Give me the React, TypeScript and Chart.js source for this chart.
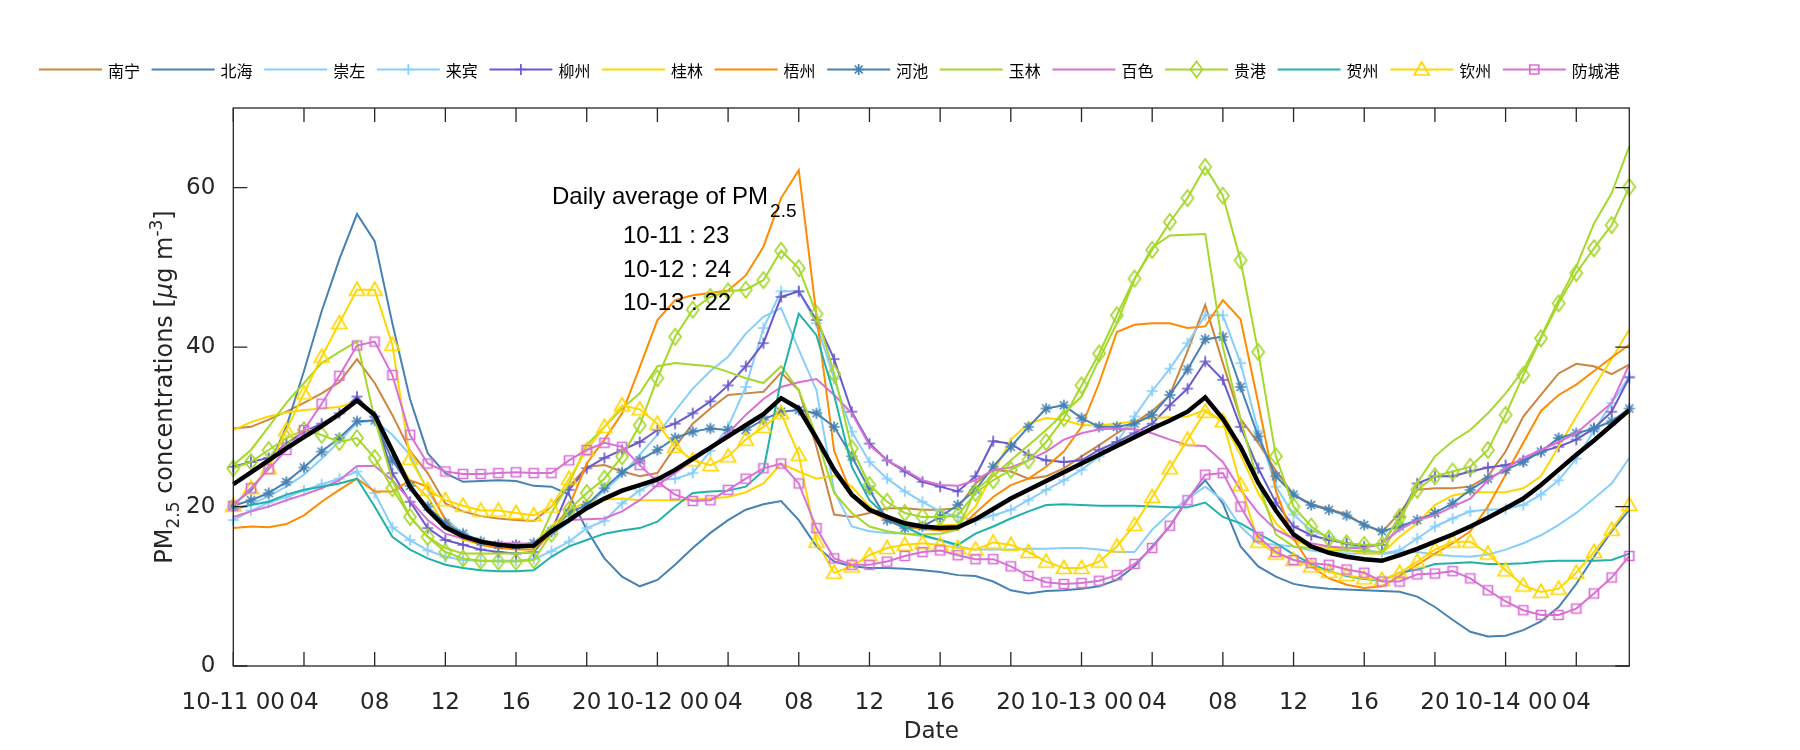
import React, { useEffect, useRef } from 'react';
import { Chart, registerables } from 'chart.js';

Chart.register(...registerables);

// ---------- data ----------
const dayLabels = ['10-11', '10-12', '10-13', '10-14'];
const hourCount = 80;
const hourTicks = Array.from({ length: hourCount }, (_, i) => {
  const h = i % 24;
  const d = Math.floor(i / 24);
  return h === 0 ? `${dayLabels[d]} 00` : String(h).padStart(2, '0');
});
const yTickValues = [0, 20, 40, 60];

const cityNames = ['南宁', '北海', '崇左', '来宾', '柳州', '桂林', '梧州', '河池', '玉林', '百色', '贵港', '贺州', '钦州', '防城港'];

const nanning = [
  29.8, 30.0, 30.9, 31.9, 33.0, 34.2, 35.6, 38.5, 35.5, 31.5, 27.0, 24.2, 20.4, 19.4, 18.8, 18.5,
  18.3, 18.2, 20.0, 22.5, 25.0, 25.2, 24.4, 23.8, 24.2, 27.5, 30.4, 32.3, 34.0, 34.2, 34.4, 36.8,
  34.6, 27.5, 19.0, 18.7, 19.2, 19.8, 19.8, 19.6, 19.6, 19.8, 22.9, 24.6, 24.4, 23.5, 23.8, 24.8,
  26.3, 27.7, 29.2, 30.5, 32.0, 34.0, 39.5, 45.3, 38.0, 31.0, 28.0, 24.5, 21.5, 20.3, 19.7, 19.0,
  17.7, 16.8, 19.2, 22.1, 22.3, 22.3, 22.5, 23.8, 26.9, 31.3, 34.0, 36.7, 37.9, 37.6, 36.6, 37.8,
];
const beihai = [
  20.3, 22.0, 25.0, 30.0, 37.0, 44.5, 51.0, 56.7, 53.3, 43.0, 33.5, 26.7, 24.2, 23.1, 23.2, 23.3,
  23.2, 22.6, 22.5, 21.5, 17.1, 13.5, 11.2, 10.0, 10.8, 12.7, 14.8, 16.7, 18.3, 19.6, 20.3, 20.7,
  18.3, 15.0, 13.1, 12.5, 12.3, 12.3, 12.2, 12.0, 11.8, 11.4, 11.3, 10.6, 9.5, 9.1, 9.4, 9.5,
  9.7, 10.0, 10.8, 12.5, 15.0, 17.5, 21.0, 23.3, 20.4, 15.0, 12.5, 11.2, 10.3, 9.9, 9.7, 9.6,
  9.5, 9.4, 9.3, 8.7, 7.4, 5.8, 4.3, 3.7, 3.8, 4.5, 5.6, 7.4, 10.3, 13.7, 16.9, 19.6,
];
const chongzuo = [
  19.5, 20.3, 21.3, 22.5, 24.0, 26.0, 28.2, 30.5, 30.8, 29.0, 26.5, 22.0, 18.5, 16.6, 15.8, 15.4,
  15.2, 15.3, 16.5, 18.0, 20.0, 22.0, 24.0, 26.5, 29.0, 32.0, 34.8, 37.0, 38.8, 41.7, 43.8, 44.9,
  39.7, 34.6, 22.0, 17.5, 16.9, 16.7, 16.6, 16.3, 15.8, 15.0, 14.6, 14.6, 14.6, 14.7, 14.7, 14.8,
  14.8, 14.6, 14.3, 14.3, 17.1, 19.2, 21.0, 22.5, 20.8, 17.5, 15.4, 15.2, 15.0, 14.5, 14.2, 14.1,
  14.1, 14.1, 14.2, 14.3, 14.0, 13.8, 13.7, 14.0, 14.6, 15.4, 16.4, 17.7, 19.2, 21.0, 22.9, 26.1,
];
const laibin = [
  18.3, 19.5, 20.5, 21.2, 22.0, 22.8, 23.5, 24.4, 21.7, 17.4, 15.8, 14.5, 13.7, 13.3, 13.2, 13.2,
  13.2, 13.4, 14.4, 15.6, 17.3, 18.2, 20.4, 22.0, 23.3, 23.5, 24.2, 27.0, 30.0, 35.0, 42.4, 47.0,
  47.0, 43.0, 36.0, 29.4, 25.6, 23.5, 21.9, 20.6, 19.4, 18.7, 18.3, 18.9, 19.6, 20.8, 22.1, 23.3,
  24.6, 26.3, 28.1, 31.3, 34.5, 37.3, 40.5, 44.0, 44.0, 38.0, 29.5, 22.5, 19.0, 17.0, 16.2, 15.3,
  14.7, 14.1, 14.5, 16.0, 17.5, 18.5, 19.4, 19.6, 19.7, 20.2, 21.5, 23.3, 26.0, 29.5, 33.0, 36.3,
];
const liuzhou = [
  25.0, 25.6, 26.1, 27.9, 29.4, 30.4, 31.7, 33.8, 31.3, 24.2, 20.6, 17.3, 15.8, 15.2, 14.6, 14.3,
  14.1, 14.3, 16.9, 22.1, 24.8, 26.1, 27.1, 28.1, 29.6, 30.4, 31.7, 33.2, 35.2, 37.6, 40.5, 46.3,
  47.0, 43.4, 38.5, 31.9, 27.9, 25.8, 24.4, 23.1, 22.5, 21.9, 23.8, 28.2, 27.9, 26.5, 25.8, 25.6,
  25.8, 27.1, 28.1, 29.2, 30.4, 32.7, 34.8, 38.2, 35.9, 30.0, 24.8, 20.5, 17.5, 16.4, 15.8, 15.4,
  15.0, 15.2, 18.7, 22.9, 23.8, 23.8, 24.4, 24.9, 25.2, 25.8, 26.9, 27.5, 28.4, 29.8, 31.9, 36.2,
];
const guilin = [
  29.6, 30.6, 31.3, 31.8, 32.1, 32.3, 32.5, 33.2, 31.4, 26.9, 23.3, 21.2, 17.5, 15.8, 15.4, 15.2,
  15.2, 15.4, 17.5, 19.5, 20.6, 20.9, 21.0, 20.8, 20.8, 20.8, 20.9, 21.0, 21.2, 21.8, 22.9, 25.4,
  24.4, 23.5, 23.9, 22.5, 20.0, 18.3, 17.5, 17.3, 17.7, 17.7, 20.0, 24.2, 28.4, 30.4, 31.1, 30.9,
  30.2, 30.2, 30.4, 30.7, 31.1, 31.2, 31.3, 32.1, 30.7, 26.5, 21.7, 17.9, 15.8, 15.0, 14.8, 14.6,
  14.1, 14.1, 16.2, 17.9, 20.2, 21.4, 21.8, 21.8, 21.8, 22.3, 23.8, 27.5, 31.3, 35.0, 38.5, 42.2,
];
const wuzhou = [
  17.3, 17.5, 17.4, 17.8, 18.9, 20.6, 22.1, 23.5, 21.9, 21.9, 23.3, 22.5, 18.3, 16.0, 15.2, 14.8,
  14.6, 14.6, 16.6, 20.0, 25.4, 28.4, 31.7, 37.5, 43.4, 45.9, 46.5, 46.8, 47.1, 49.0, 52.6, 58.7,
  62.2, 44.0, 27.0, 21.5, 19.5, 18.3, 17.5, 17.2, 17.0, 17.1, 19.2, 21.2, 22.7, 23.5, 25.0, 26.9,
  30.0, 35.5, 41.9, 42.8, 43.0, 43.0, 42.4, 42.6, 45.9, 43.5, 33.0, 22.0, 16.0, 12.5, 11.0, 10.2,
  9.8, 10.0, 11.3, 12.7, 14.1, 15.4, 16.9, 20.0, 24.0, 28.0, 32.0, 34.0, 35.3, 37.0, 38.7, 40.3,
];
const hechi = [
  20.1, 20.8, 21.7, 23.1, 24.9, 26.9, 28.6, 30.7, 30.8, 25.8, 22.6, 20.0, 17.9, 16.6, 15.6, 15.2,
  15.2, 15.4, 16.9, 19.2, 20.2, 22.3, 24.3, 25.8, 27.1, 28.6, 29.4, 29.8, 29.6, 29.6, 30.9, 31.9,
  32.1, 31.7, 30.0, 26.3, 22.1, 18.3, 17.3, 17.5, 18.7, 20.2, 22.1, 25.0, 27.5, 30.0, 32.3, 32.7,
  31.1, 30.0, 30.0, 30.4, 31.5, 34.0, 37.2, 41.0, 41.3, 35.0, 28.8, 23.8, 21.5, 20.2, 19.6, 18.9,
  17.7, 16.9, 17.5, 18.3, 19.2, 20.4, 22.1, 23.5, 24.6, 25.6, 26.9, 28.6, 29.2, 29.8, 30.7, 32.3,
];
const yulin = [
  25.2, 27.1, 30.0, 33.0, 35.5, 38.0, 39.4, 40.7, 31.0, 23.3, 18.7, 16.2, 14.8, 14.1, 14.1, 14.1,
  14.1, 14.3, 19.2, 22.9, 27.7, 30.0, 32.3, 34.2, 37.6, 38.0, 37.8, 37.6, 36.9, 36.1, 35.5, 37.6,
  34.6, 28.8, 21.7, 19.2, 17.5, 16.9, 16.6, 16.5, 16.6, 17.1, 22.1, 23.8, 25.8, 27.7, 29.6, 31.7,
  33.8, 38.5, 43.0, 48.5, 52.5, 54.0, 54.1, 54.2, 40.0, 31.0, 23.0, 16.5, 15.0, 14.8, 14.5, 14.5,
  14.4, 14.3, 18.0, 23.0, 26.3, 28.2, 29.6, 31.7, 34.2, 37.1, 41.3, 45.9, 50.1, 55.5, 59.3, 65.2,
];
const baise = [
  18.7, 19.4, 20.0, 20.8, 21.5, 22.3, 23.3, 25.1, 25.1, 23.3, 20.8, 18.3, 16.6, 16.0, 15.6, 15.4,
  15.4, 15.3, 17.1, 18.3, 18.4, 18.5, 19.4, 20.8, 22.7, 24.2, 25.8, 27.5, 29.2, 31.5, 33.5, 35.0,
  35.6, 36.0, 34.0, 31.7, 27.7, 25.8, 24.6, 23.3, 22.7, 22.6, 23.3, 24.6, 24.9, 25.8, 26.9, 28.4,
  29.2, 29.7, 29.8, 29.7, 29.2, 28.4, 27.7, 27.6, 25.6, 22.1, 19.2, 17.1, 16.0, 15.4, 15.0, 14.8,
  14.8, 15.4, 17.1, 18.3, 18.9, 20.0, 21.0, 23.3, 24.8, 26.1, 27.1, 28.1, 29.2, 31.1, 33.0, 37.8,
];
const guigang = [
  24.8, 25.6, 27.1, 28.6, 29.6, 29.0, 28.1, 28.6, 26.1, 22.3, 18.7, 16.2, 14.3, 13.5, 13.2, 13.1,
  13.1, 13.3, 16.6, 19.6, 21.7, 23.5, 26.3, 30.2, 36.1, 41.3, 44.7, 46.3, 47.0, 47.2, 48.4, 52.1,
  49.9, 44.2, 36.7, 27.3, 22.7, 20.6, 19.2, 18.7, 18.7, 18.9, 21.7, 23.3, 24.6, 25.8, 28.1, 31.1,
  35.2, 39.2, 44.0, 48.6, 52.2, 55.7, 58.7, 62.6, 59.0, 50.9, 39.4, 26.3, 20.0, 17.5, 16.0, 15.4,
  15.2, 15.2, 18.7, 22.1, 23.8, 24.4, 25.0, 27.1, 31.5, 36.5, 41.1, 45.5, 49.3, 52.4, 55.3, 60.1,
];
const hezhou = [
  19.8, 20.2, 20.6, 21.5, 22.1, 22.5, 22.9, 23.5, 20.0, 16.2, 14.6, 13.5, 12.7, 12.3, 12.0, 11.9,
  11.9, 12.0, 13.7, 15.0, 15.8, 16.6, 17.0, 17.3, 18.1, 20.0, 21.7, 21.9, 22.0, 22.5, 24.5, 36.0,
  44.2, 41.5, 34.0, 25.0, 20.8, 18.7, 17.5, 16.4, 15.8, 15.2, 16.6, 17.5, 18.5, 19.4, 20.2, 20.3,
  20.2, 20.1, 20.1, 20.1, 20.0, 19.9, 19.9, 20.5, 18.7, 17.9, 16.6, 15.4, 14.0, 12.8, 11.9, 11.3,
  10.9, 10.7, 11.7, 12.1, 12.8, 12.9, 13.0, 12.8, 12.8, 12.9, 13.1, 13.2, 13.2, 13.2, 13.3, 14.1,
];
const qinzhou = [
  20.1, 22.3, 24.8, 29.6, 34.2, 38.8, 43.0, 47.2, 47.2, 40.3, 26.0, 22.1, 20.8, 20.1, 19.5, 19.5,
  19.2, 18.9, 20.0, 23.5, 27.1, 30.0, 32.7, 32.2, 30.4, 27.5, 25.8, 25.2, 26.3, 28.4, 30.0, 31.7,
  26.5, 15.6, 11.7, 12.5, 13.9, 14.8, 15.2, 15.4, 15.2, 14.8, 14.6, 15.5, 15.2, 14.3, 13.1, 12.3,
  12.3, 13.1, 15.0, 17.7, 21.2, 24.8, 28.4, 31.9, 30.7, 22.7, 15.6, 14.1, 13.3, 12.5, 11.8, 11.4,
  11.0, 10.8, 11.7, 13.1, 14.6, 15.6, 15.6, 14.1, 12.0, 10.1, 9.3, 9.7, 11.7, 14.3, 17.1, 20.2,
];
const fangchenggang = [
  20.1, 22.3, 24.7, 27.1, 29.6, 32.9, 36.4, 40.2, 40.7, 36.5, 29.0, 25.4, 24.4, 24.1, 24.1, 24.2,
  24.3, 24.2, 24.2, 25.8, 27.1, 28.0, 27.5, 25.2, 23.1, 21.5, 20.7, 20.8, 22.1, 23.5, 24.8, 25.4,
  22.9, 17.3, 13.5, 12.7, 12.7, 13.1, 13.8, 14.3, 14.5, 13.9, 13.4, 13.4, 12.5, 11.3, 10.5, 10.3,
  10.4, 10.7, 11.4, 12.8, 14.8, 17.6, 20.8, 24.0, 24.2, 20.0, 16.2, 14.3, 13.3, 12.9, 12.7, 12.1,
  11.7, 10.6, 10.6, 11.5, 11.6, 11.9, 11.0, 9.5, 8.1, 7.0, 6.4, 6.4, 7.2, 9.1, 11.1, 13.8,
];
const regionAverage = [
  22.8, 24.3, 25.8, 27.3, 28.7, 30.1, 31.6, 33.3, 31.5, 27.0, 22.5, 19.6, 17.4, 16.3, 15.6, 15.2,
  15.0, 15.1, 16.9, 18.3, 19.8, 21.0, 22.0, 22.7, 23.4, 24.6, 26.0, 27.4, 28.8, 30.2, 31.6, 33.6,
  32.3, 28.6, 24.6, 21.5, 19.6, 18.7, 17.9, 17.5, 17.3, 17.4, 18.4, 19.7, 21.0, 22.1, 23.2, 24.3,
  25.4, 26.5, 27.6, 28.7, 29.8, 30.8, 31.9, 33.7, 31.0, 27.5, 23.0, 19.5, 16.5, 15.0, 14.2, 13.7,
  13.4, 13.2, 13.9, 14.7, 15.6, 16.5, 17.5, 18.6, 19.8, 21.0, 22.7, 24.6, 26.5, 28.3, 30.2, 32.1,
];

const cityValues = [nanning, beihai, chongzuo, laibin, liuzhou, guilin, wuzhou, hechi, yulin, baise, guigang, hezhou, qinzhou, fangchenggang];

const dailyDates = ['10-11', '10-12', '10-13'];
const dailyAverages = [23, 24, 22];

// ---------- styles ----------
const GREEN = '#a4d82a';
const cityColors = ['#CD853F', '#4682B4', '#87CEFA', '#87CEFA', '#6A5ACD', '#FFD700', '#FF8C00', '#4682B4', GREEN, '#DA70D6', GREEN, '#20B2AA', '#FFD700', '#DA70D6'];
const markerKinds = ['none', 'none', 'none', 'plus', 'plus', 'none', 'none', 'star', 'none', 'none', 'diamond', 'none', 'triangle', 'square'];

const AXIS_COLOR = '#262626';
const AXIS_FONT = 'DejaVu Sans';
const AXIS_SIZE = 23;

function drawMarkerShape(ctx: CanvasRenderingContext2D, kind: string, cx: number, cy: number) {
  ctx.beginPath();
  if (kind === 'plus') {
    const r = 5.5;
    ctx.moveTo(cx - r, cy); ctx.lineTo(cx + r, cy);
    ctx.moveTo(cx, cy - r); ctx.lineTo(cx, cy + r);
  } else if (kind === 'star') {
    const r = 5.5, d = 4;
    ctx.moveTo(cx - r, cy); ctx.lineTo(cx + r, cy);
    ctx.moveTo(cx, cy - r); ctx.lineTo(cx, cy + r);
    ctx.moveTo(cx - d, cy - d); ctx.lineTo(cx + d, cy + d);
    ctx.moveTo(cx - d, cy + d); ctx.lineTo(cx + d, cy - d);
  } else if (kind === 'diamond') {
    ctx.moveTo(cx, cy - 8); ctx.lineTo(cx + 6, cy); ctx.lineTo(cx, cy + 8); ctx.lineTo(cx - 6, cy); ctx.closePath();
  } else if (kind === 'triangle') {
    ctx.moveTo(cx, cy - 7.5); ctx.lineTo(cx + 7.5, cy + 5.5); ctx.lineTo(cx - 7.5, cy + 5.5); ctx.closePath();
  } else if (kind === 'square') {
    ctx.rect(cx - 4.5, cy - 4.5, 9, 9);
  }
  ctx.stroke();
}

function makeMarker(kind: string, color: string): HTMLCanvasElement {
  const c = document.createElement('canvas');
  c.width = 22; c.height = 22;
  const ctx = c.getContext('2d')!;
  ctx.strokeStyle = color;
  ctx.lineWidth = 1.7;
  ctx.lineJoin = 'miter';
  drawMarkerShape(ctx, kind, 11, 11);
  return c;
}

const decorPlugin = {
  id: 'decor',
  afterDraw(chart: any) {
    const ctx: CanvasRenderingContext2D = chart.ctx;
    const { left, right, top, bottom } = chart.chartArea;
    const xs = chart.scales.x;
    const ys = chart.scales.y;
    ctx.save();
    // axes box + inward ticks
    ctx.strokeStyle = AXIS_COLOR;
    ctx.lineWidth = 1.3;
    ctx.strokeRect(left, top, right - left, bottom - top);
    ctx.beginPath();
    for (let i = 0; i < hourTicks.length; i += 4) {
      const px = xs.getPixelForValue(i);
      ctx.moveTo(px, bottom); ctx.lineTo(px, bottom - 14);
      ctx.moveTo(px, top); ctx.lineTo(px, top + 14);
    }
    for (const v of yTickValues) {
      const py = ys.getPixelForValue(v);
      ctx.moveTo(left, py); ctx.lineTo(left + 14, py);
      ctx.moveTo(right, py); ctx.lineTo(right - 14, py);
    }
    ctx.stroke();

    // y axis title with sub/superscripts
    const parts: { t: string; size: number; dy: number; italic?: boolean }[] = [
      { t: 'PM', size: 24, dy: 0 },
      { t: '2.5', size: 17, dy: 7 },
      { t: ' concentrations [', size: 24, dy: 0 },
      { t: 'μ', size: 24, dy: 0, italic: true },
      { t: 'g m', size: 24, dy: 0 },
      { t: '-3', size: 17, dy: -10 },
      { t: ']', size: 24, dy: 0 },
    ];
    let total = 0;
    const widths = parts.map((p) => {
      ctx.font = `${p.italic ? 'italic ' : ''}${p.size}px "${AXIS_FONT}"`;
      const w = ctx.measureText(p.t).width;
      total += w;
      return w;
    });
    ctx.save();
    ctx.translate(172, (top + bottom) / 2);
    ctx.rotate(-Math.PI / 2);
    ctx.fillStyle = AXIS_COLOR;
    ctx.textBaseline = 'alphabetic';
    ctx.textAlign = 'left';
    let cx = -total / 2;
    parts.forEach((p, i) => {
      ctx.font = `${p.italic ? 'italic ' : ''}${p.size}px "${AXIS_FONT}"`;
      ctx.fillText(p.t, cx, p.dy);
      cx += widths[i];
    });
    ctx.restore();

    // annotation
    ctx.fillStyle = '#000';
    ctx.textAlign = 'left';
    ctx.textBaseline = 'alphabetic';
    ctx.font = '24px "Liberation Sans"';
    const head = 'Daily average of PM';
    ctx.fillText(head, 552, 204);
    const hw = ctx.measureText(head).width;
    ctx.font = '19px "Liberation Sans"';
    ctx.fillText('2.5', 552 + hw + 2, 217);
    ctx.font = '24px "Liberation Sans"';
    dailyDates.forEach((d, i) => {
      ctx.fillText(`${d} : ${dailyAverages[i]}`, 623, 243 + i * 33.5);
    });

    // legend
    const y0 = 69.5;
    cityNames.forEach((name, i) => {
      const x0 = 39 + i * 112.6;
      ctx.strokeStyle = cityColors[i];
      ctx.lineWidth = 2;
      ctx.beginPath();
      ctx.moveTo(x0, y0); ctx.lineTo(x0 + 63, y0);
      ctx.stroke();
      if (markerKinds[i] !== 'none') {
        ctx.lineWidth = 1.7;
        drawMarkerShape(ctx, markerKinds[i], x0 + 31.5, y0);
      }
      ctx.fillStyle = '#000';
      ctx.font = '16px "Noto Sans CJK SC"';
      ctx.textBaseline = 'middle';
      ctx.fillText(name, x0 + 69, y0 + 1);
    });
    ctx.restore();
  },
};

export default function App() {
  const canvasRef = useRef<HTMLCanvasElement | null>(null);

  useEffect(() => {
    if (!canvasRef.current) return;
    const datasets: any[] = cityNames.map((name, i) => {
      const hasMarker = markerKinds[i] !== 'none';
      return {
        label: name,
        data: cityValues[i],
        borderColor: cityColors[i],
        backgroundColor: cityColors[i],
        borderWidth: 2,
        pointStyle: hasMarker ? makeMarker(markerKinds[i], cityColors[i]) : false,
        pointRadius: hasMarker ? 5 : 0,
        fill: false,
        tension: 0,
        clip: false,
        order: 100 - i,
      };
    });
    datasets.push({
      label: 'average',
      data: regionAverage,
      borderColor: '#000000',
      backgroundColor: '#000000',
      borderWidth: 4.5,
      pointRadius: 0,
      pointStyle: false,
      fill: false,
      tension: 0,
      clip: false,
      order: 0,
    });

    const chart = new Chart(canvasRef.current, {
      type: 'line',
      data: { labels: hourTicks, datasets },
      plugins: [decorPlugin],
      options: {
        animation: false,
        responsive: false,
        devicePixelRatio: 1,
        events: [],
        layout: { padding: { left: 0, top: 108, right: 170.7, bottom: 0 } },
        plugins: { legend: { display: false }, tooltip: { enabled: false }, title: { display: false } },
        scales: {
          x: {
            type: 'category',
            offset: false,
            grid: { display: false },
            border: { display: false },
            afterFit: (scale: any) => { scale.height = 84; },
            ticks: {
              autoSkip: false,
              maxRotation: 0,
              minRotation: 0,
              padding: 15,
              color: AXIS_COLOR,
              font: { family: AXIS_FONT, size: AXIS_SIZE },
              callback: function (this: any, val: any, idx: number) {
                return idx % 4 === 0 ? this.getLabelForValue(val) : null;
              },
            },
            title: {
              display: true,
              text: 'Date',
              color: AXIS_COLOR,
              font: { family: AXIS_FONT, size: AXIS_SIZE },
              padding: { top: 0, bottom: 4 },
            },
          },
          y: {
            type: 'linear',
            min: 0,
            max: 70,
            grid: { display: false },
            border: { display: false },
            afterFit: (scale: any) => { scale.width = 233.3; },
            ticks: {
              stepSize: 20,
              includeBounds: false,
              padding: 10,
              color: AXIS_COLOR,
              font: { family: AXIS_FONT, size: AXIS_SIZE },
            },
          },
        },
      },
    });
    return () => chart.destroy();
  }, []);

  return (
    <div style={{ position: 'absolute', left: 0, top: 0, width: 1800, height: 750, background: '#fff' }}>
      <canvas ref={canvasRef} width={1800} height={750} style={{ width: 1800, height: 750, display: 'block' }} />
    </div>
  );
}
